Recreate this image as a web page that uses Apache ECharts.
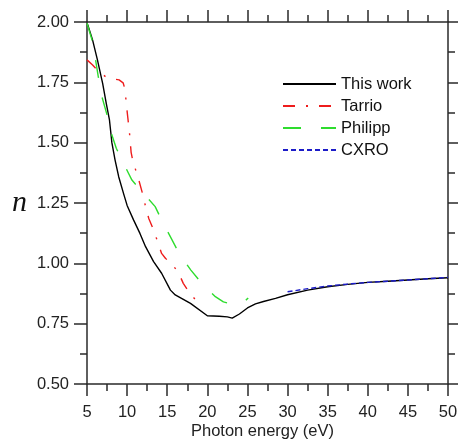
<!DOCTYPE html>
<html>
<head>
<meta charset="utf-8">
<script src="https://cdn.jsdelivr.net/npm/echarts@6/dist/echarts.min.js"></script>
<style>
  html, body { margin: 0; padding: 0; background: #fff; }
  #chart { width: 458px; height: 439px; }
</style>
</head>
<body>
<div id="chart"></div>
<script>
// Refractive index n versus photon energy (eV)
const thisWorkE = [5.08, 5.7, 6.3, 6.95, 7.4, 7.8, 8.1, 8.5, 8.95, 9.55, 10.0, 10.8, 11.6, 12.3, 13.3, 14.3, 15.4, 16.0, 17.9, 20.0, 21.5, 22.5, 23.1, 24.0, 25.0, 26.0, 27.0, 28.5, 30.0, 32.5, 35.0, 37.5, 40.0, 42.5, 45.0, 47.5, 50.0];
const thisWorkN = [1.99, 1.925, 1.843, 1.746, 1.663, 1.594, 1.50, 1.428, 1.359, 1.29, 1.24, 1.18, 1.124, 1.069, 1.007, 0.959, 0.889, 0.869, 0.834, 0.783, 0.781, 0.778, 0.773, 0.79, 0.815, 0.832, 0.842, 0.855, 0.870, 0.889, 0.903, 0.913, 0.921, 0.926, 0.931, 0.936, 0.940];

const tarrioE = [5.0, 5.7, 6.3, 7.4, 8.5, 9.0, 9.5, 9.75, 9.9, 10.1, 10.3, 10.5, 10.8, 11.0, 11.5, 12.0, 12.3, 12.7, 13.3, 13.8, 14.3, 14.8, 15.4, 16.4, 17.0, 17.9, 19.1];
const tarrioN = [1.843, 1.822, 1.80, 1.771, 1.763, 1.76, 1.748, 1.72, 1.66, 1.60, 1.54, 1.46, 1.41, 1.394, 1.34, 1.28, 1.235, 1.186, 1.138, 1.09, 1.041, 1.02, 1.005, 0.962, 0.917, 0.872, 0.828];

const philippE = [5.0, 5.7, 6.4, 6.8, 7.5, 7.9, 8.65, 9.56, 10.6, 11.5, 12.3, 13.5, 14.5, 15.6, 16.6, 17.95, 19.3, 21.0, 22.0, 22.9, 24.0, 24.6, 25.1];
const philippN = [1.995, 1.918, 1.775, 1.697, 1.615, 1.552, 1.477, 1.414, 1.345, 1.31, 1.28, 1.235, 1.166, 1.097, 1.034, 0.972, 0.917, 0.862, 0.84, 0.832, 0.832, 0.842, 0.856];

const cxroE = [30.0, 32.5, 35.0, 37.5, 40.0, 42.5, 45.0, 47.5, 50.0];
const cxroN = [0.882, 0.895, 0.906, 0.914, 0.921, 0.926, 0.931, 0.936, 0.942];

const seriesNames = ['This work', 'Tarrio', 'Philipp', 'CXRO'];
const xTicks = [5, 10, 15, 20, 25, 30, 35, 40, 45, 50];
const yTicks = [0.50, 0.75, 1.00, 1.25, 1.50, 1.75, 2.00];

const zip = (xs, ys) => xs.map((x, i) => [x, ys[i]]);

const FONT = 'Liberation Sans, Arial, sans-serif';
const AXIS_COLOR = '#2a2a2a';
const LABEL_COLOR = '#222';

function xAxisDef(pos, showLabels) {
  return {
    type: 'value', position: pos,
    min: xTicks[0], max: xTicks[xTicks.length - 1], interval: 5,
    axisLine: { show: true, onZero: false, lineStyle: { color: AXIS_COLOR, width: 1.5 } },
    axisTick: { show: true, inside: false, length: 12, lineStyle: { color: AXIS_COLOR, width: 1.5 } },
    minorTick: { show: true, splitNumber: 2, length: 7, lineStyle: { color: AXIS_COLOR, width: 1.5 } },
    splitLine: { show: false },
    axisLabel: { show: showLabels, fontFamily: FONT, fontSize: 16.5, color: LABEL_COLOR, margin: 20 },
    name: showLabels ? 'Photon energy (eV)' : '',
    nameLocation: 'middle', nameGap: 39, nameMoveOverlap: false,
    nameTextStyle: { fontFamily: FONT, fontSize: 16.5, color: LABEL_COLOR, padding: [0, 10, 0, 0] }
  };
}

function yAxisDef(pos, showLabels) {
  return {
    type: 'value', position: pos,
    min: yTicks[0], max: yTicks[yTicks.length - 1], interval: 0.25,
    axisLine: { show: true, onZero: false, lineStyle: { color: AXIS_COLOR, width: 1.5 } },
    axisTick: { show: true, inside: false, length: 13, lineStyle: { color: AXIS_COLOR, width: 1.5 } },
    minorTick: { show: true, splitNumber: 2, length: 7, lineStyle: { color: AXIS_COLOR, width: 1.5 } },
    splitLine: { show: false },
    axisLabel: { show: showLabels, fontFamily: FONT, fontSize: 16.5, color: LABEL_COLOR, margin: 18,
                 formatter: v => v.toFixed(2) },
    name: showLabels ? 'n' : '',
    nameLocation: 'middle', nameRotate: 0, nameGap: 60, nameMoveOverlap: false,
    nameTextStyle: { fontFamily: 'Liberation Serif, Times New Roman, serif', fontStyle: 'italic', fontSize: 30, color: '#111' }
  };
}

function lineSeries(name, data, color, type) {
  return {
    name, type: 'line', data, xAxisIndex: 0, yAxisIndex: 0,
    symbol: 'none', smooth: false, animation: false,
    lineStyle: { color, width: 1.4, type },
    itemStyle: { color }
  };
}

const chart = echarts.init(document.getElementById('chart'), null, { renderer: 'canvas' });
chart.setOption({
  backgroundColor: '#fff',
  animation: false,
  grid: { left: 87, right: 10, top: 22, bottom: 55, outerBoundsMode: 'none', containLabel: false },
  xAxis: [xAxisDef('bottom', true), xAxisDef('top', false)],
  yAxis: [yAxisDef('left', true), yAxisDef('right', false)],
  legend: {
    data: seriesNames,
    orient: 'vertical', left: 282, top: 75,
    itemWidth: 53, itemHeight: 14, itemGap: 4, padding: 0,
    itemStyle: { opacity: 0 },
    textStyle: { fontFamily: FONT, fontSize: 16.5, color: '#111', lineHeight: 18 }
  },
  series: [
    lineSeries(seriesNames[0], zip(thisWorkE, thisWorkN), '#000000', 'solid'),
    lineSeries(seriesNames[1], zip(tarrioE, tarrioN), '#ee1c1c', [12, 11, 2, 11]),
    lineSeries(seriesNames[2], zip(philippE, philippN), '#2edc2e', [18, 20]),
    lineSeries(seriesNames[3], zip(cxroE, cxroN), '#1c1cc8', [5, 3])
  ]
});
</script>
</body>
</html>
